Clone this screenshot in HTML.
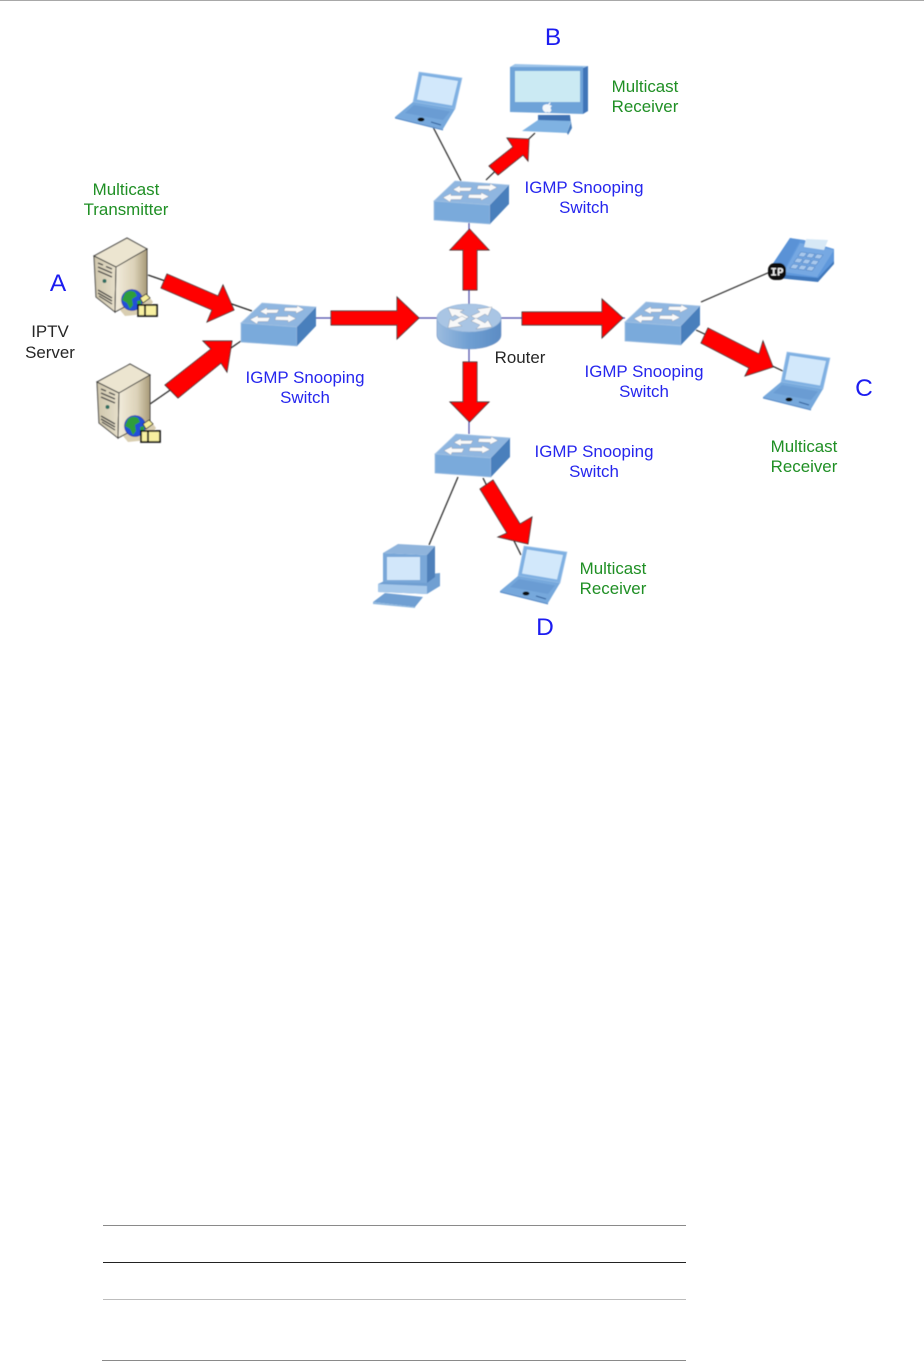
<!DOCTYPE html>
<html lang="en">
<head>
<meta charset="utf-8">
<title>IGMP Snooping diagram</title>
<style>
html,body{margin:0;padding:0;background:#fff;width:924px;height:1361px;overflow:hidden}
svg{display:block;position:absolute;left:0;top:0}
text{font-family:"Liberation Sans",sans-serif;font-size:16.9px;text-anchor:middle}
.b{fill:#2626ee}
.g{fill:#1f8f24}
.k{fill:#262626}
.L{font-size:24.5px;fill:#1c1cf0}
.ic{filter:url(#soft)}
.r{fill:#ff0000;stroke:#3a2a2a;stroke-width:.9;stroke-linejoin:miter}
.ip{font-family:"Liberation Mono",monospace;font-size:11px;font-weight:bold;fill:#f4f4f4}
</style>
</head>
<body>
<svg width="924" height="1361" viewBox="0 0 924 1361" xmlns="http://www.w3.org/2000/svg">
<defs>
<filter id="soft" x="-5%" y="-5%" width="110%" height="110%"><feGaussianBlur stdDeviation="0.5"/></filter>
<linearGradient id="srvF" x1="0" y1="0" x2="1" y2="0"><stop offset="0" stop-color="#cfc6ac"/><stop offset="1" stop-color="#e6dfca"/></linearGradient>
<linearGradient id="srvS" x1="0" y1="0" x2="1" y2="0"><stop offset="0" stop-color="#f2ecdc"/><stop offset=".6" stop-color="#dcd2b8"/><stop offset="1" stop-color="#a89a78"/></linearGradient>
<linearGradient id="rt" x1="0" y1="0" x2="1" y2="0"><stop offset="0" stop-color="#9cbcdf"/><stop offset=".5" stop-color="#6f9fd2"/><stop offset="1" stop-color="#5c8cc4"/></linearGradient>

<g id="sw">
  <polygon points="21,0 75,4 56,24 0,20" fill="#8fb6e0" stroke="#a8c6e6" stroke-width=".7"/>
  <polygon points="0,20 56,24 56,43 0,39" fill="#7aaadb" stroke="#a0c0e2" stroke-width=".7"/>
  <polygon points="56,24 75,4 75,23 56,43" fill="#4a7fbc"/>
  <g fill="#fafafa" stroke="#8a97a8" stroke-width=".4">
    <polygon points="19,8.500 26,4.500 26,6.500 38,6.500 36,10 26,10 26,12"/>
    <polygon points="63,6.500 56,2.500 56,4.500 44,4.500 43,8 55,8.500 55,10.500"/>
    <polygon points="9,16.500 17,12.500 17,14.500 29,14.500 27,18.500 17,18.500 16,21"/>
    <polygon points="55,15.500 47,11.500 47,13.500 35,13.500 34,17 47,17.500 47,19.500"/>
  </g>
</g>

<g id="lap">
  <polygon points="23,0 66,6 59,37 17,30" fill="#7fb0e2" stroke="#a6c8ec" stroke-width=".7"/>
  <polygon points="26,3.500 62,9 56,33.500 21,27.500" fill="#d2e8fb"/>
  <polygon points="17,30 59,37 47,57 -1,45" fill="#76a8dc"/>
  <polygon points="-1,45 47,57 47,58.500 -1,46.500" fill="#5a8ecb"/>
  <polygon points="18,33 54,39.500 47,48 9,41" fill="#6a9cd3"/>
  <ellipse cx="25" cy="47.500" rx="3.500" ry="2" fill="#111"/>
  <path d="M35,50 L45,53" stroke="#2c5a96" stroke-width="1"/>
</g>

<g id="srv">
  <path d="M25,72 L52,56 L58,64 L50,76 L30,78Z" fill="#cfc29e" opacity=".8"/>
  <polygon points="-1,18 32,0 52,11 21,29" fill="#ece5d0" stroke="#3e3e3c" stroke-width="1"/>
  <polygon points="-1,18 21,29 20,74 1,59" fill="url(#srvF)" stroke="#3e3e3c" stroke-width="1"/>
  <polygon points="21,29 52,11 52,57 20,74" fill="url(#srvS)" stroke="#3e3e3c" stroke-width="1"/>
  <g stroke="#444" stroke-width="1.300" fill="none">
    <path d="M3,25 L8,27 M11,28.500 L17,31"/>
    <path d="M3,29 L17,35"/>
    <path d="M3,33 L17,39"/>
    <path d="M3,52 L17,60 M3,55 L17,63 M4,58 L17,66"/>
  </g>
  <circle cx="9.500" cy="43" r="2" fill="#2f6f62"/>
  <circle cx="37" cy="62" r="10.500" fill="#2450d8" stroke="#20308c" stroke-width=".6"/>
  <path d="M30,55 q5,-4 10,-1 l2,4 -5,3 1,6 -3,4 -3,-6 -5,-3z M42,63 l4,-1 0,4 -3,4z" fill="#2f9e3a"/>
  <polygon points="45,60 51,56 55,60 48,65" fill="#f6ee9a" stroke="#222" stroke-width=".8"/>
  <rect x="43" y="67" width="19" height="11" fill="#f8f0a0" stroke="#111" stroke-width="1.700"/>
  <path d="M50,67 V78" stroke="#111" stroke-width="1.800"/>
</g>
</defs>

<rect x="0" y="0" width="924" height="1" fill="#a8a8a8"/>

<g class="ic">
  <!-- connectors -->
  <g stroke="#222" stroke-width="1.200" fill="none">
    <path d="M148,275 L252,311"/>
    <path d="M150,404 L241,341"/>
    <path d="M433,127 L461,181"/>
    <path d="M486,180 L535,133"/>
    <path d="M701,302 L770,272"/>
    <path d="M696,330 L785,372"/>
    <path d="M458,477 L429,545"/>
    <path d="M483,478 L521,555"/>
  </g>
  <g stroke="#4a4aa8" stroke-width="1.200" fill="none">
    <path d="M316,318 H437"/>
    <path d="M469,304 V223"/>
    <path d="M501,318 H625"/>
    <path d="M469,349 V434"/>
  </g>

  <!-- servers -->
  <use href="#srv" transform="translate(95,238)"/>
  <use href="#srv" transform="translate(98,364)"/>

  <!-- switches -->
  <use href="#sw" transform="translate(241,303)"/>
  <use href="#sw" transform="translate(434,181)"/>
  <use href="#sw" transform="translate(625,302)"/>
  <use href="#sw" transform="translate(435,434)"/>

  <!-- router -->
  <path d="M437,318 V335 A32,14 0 0 0 501,335 V318Z" fill="url(#rt)" stroke="#6f8fc0" stroke-width=".6"/>
  <ellipse cx="469" cy="318" rx="32" ry="14" fill="#a9c5e4" stroke="#8fb0d6" stroke-width=".6"/>
  <g fill="#f8f8f8" stroke="#7f8c9c" stroke-width=".4">
    <polygon points="448,308 464,310 460,312 469,317 464,320 455,315 452,317"/>
    <polygon points="492,307 477,309 480,312 471,316 476,319 485,314 488,316"/>
    <polygon points="448,328 462,326 458,323 467,319 462,316 453,321 450,319"/>
    <polygon points="492,327 476,329 480,325 471,321 476,318 485,323 488,320"/>
  </g>

  <!-- laptops -->
  <use href="#lap" transform="translate(396,72)"/>
  <use href="#lap" transform="translate(764,352)"/>
  <use href="#lap" transform="translate(501,546)"/>

  <!-- monitor -->
  <polygon points="538,115 570,115 571,123 556,124 538,124" fill="#3f72b2"/>
  <polygon points="538,120 571,121 567,133 522,131" fill="#7fb2e2"/>
  <polygon points="567,133 571,122 572,128 568,135" fill="#4a7fbc"/>
  <polygon points="515,64 588,66 583,68 510,67" fill="#9cc4ea"/>
  <polygon points="510,67 583,67 583,114 510,112" fill="#6ea3d8"/>
  <polygon points="583,68 588,66 588,111 583,114" fill="#3f74b8"/>
  <rect x="515" y="71" width="65" height="31" fill="#cbeaf3"/>
  <path d="M544,105 q3,-1.500 4,-.5 q1,-2 2.500,-2.500 q0,2 -1.500,3 q2,0 3,1 q-2.500,1.500 -.5,4 q-1,2.500 -2.500,2.500 q-1.500,-1 -3,0 q-3,-1 -3.500,-4 q0,-3 1.500,-3.500z" fill="#f4f8fb"/>

  <!-- desktop -->
  <polygon points="378,584 391,578 440,573 440,586 427,594 378,592" fill="#6f9fd2"/>
  <polygon points="378,584 427,586 427,594 378,592" fill="#a6c8ea"/>
  <polygon points="383,553 398,544 435,546 427,555" fill="#8fb4dc"/>
  <polygon points="383,553 427,555 427,583 383,582" fill="#79a7d8"/>
  <polygon points="427,555 435,546 435,577 427,583" fill="#4f80ba"/>
  <rect x="387" y="557" width="33" height="23" fill="#d2e7fa"/>
  <polygon points="385,593 423,597 415,607 373,602" fill="#6f9fd2"/>
  <polygon points="373,602 415,607 415,608 373,604" fill="#8db6de"/>

  <!-- phone -->
  <polygon points="790,238 804,240 834,249 834,262 818,281 775,276 770,268" fill="#5f98dc"/>
  <polygon points="770,268 790,238 800,240 782,273" fill="#5a92d6"/>
  <polygon points="784,272 800,243 834,250 817,277" fill="#76a8e2"/>
  <polygon points="775,274 818,278 834,261 834,264 818,282 777,278" fill="#3f78bc"/>
  <polygon points="806,239 828,240 824,250 804,247" fill="#d6e8f6"/>
  <g fill="#a8c8ec" stroke="#4f84c4" stroke-width=".6">
    <polygon points="801,252 807,253 804,257 798,256"/><polygon points="809,253 815,254 812,258 806,257"/><polygon points="817,254 823,255 820,259 814,258"/>
    <polygon points="797,258 803,259 800,263 794,262"/><polygon points="805,259 811,260 808,264 802,263"/><polygon points="813,260 819,261 816,265 810,264"/>
    <polygon points="793,264 799,265 796,269 790,268"/><polygon points="801,265 807,266 804,270 798,269"/><polygon points="809,266 815,267 812,271 806,270"/>
  </g>
  <rect x="768" y="263" width="18" height="17" rx="7" fill="#0a0a0a"/>
  <text class="ip" x="777" y="275.500">IP</text>

  <!-- red arrows -->
  <polygon class="r" points="167,274 218,296 223,285 234,310 207,322 212,310 161,288"/>
  <polygon class="r" points="165,385 211,349 203,341 232,341 227,372 221,363 178,398"/>
  <polygon class="r" points="331,311 397,311 397,297 419,318 397,339 397,325 331,325"/>
  <polygon class="r" points="463,290 463,250 450,250 469.500,229 489,250 477,250 477,290"/>
  <polygon class="r" points="522,312 602,312 602,299 623,318 602,338 602,325 522,325"/>
  <polygon class="r" points="463,362 463,402 450,402 469.500,422 489,402 477,402 477,362"/>
  <polygon class="r" points="708,328 759,354 763,341 773,367 745,376 749,368 701,343"/>
  <polygon class="r" points="489,166 513,147 507,138 529,139 528,161 523,155 498,175"/>
  <polygon class="r" points="480,489 493,480 520,524 532,517 528,544 498,537 507,533"/>
</g>

<!-- labels -->
<text class="g" x="126" y="195">Multicast</text>
<text class="g" x="126" y="215">Transmitter</text>
<text class="L" x="58" y="291">A</text>
<text class="k" x="50" y="337">IPTV</text>
<text class="k" x="50" y="358">Server</text>
<text class="L" x="553" y="45">B</text>
<text class="g" x="645" y="92">Multicast</text>
<text class="g" x="645" y="112">Receiver</text>
<text class="b" x="584" y="193">IGMP Snooping</text>
<text class="b" x="584" y="213">Switch</text>
<text class="k" x="520" y="363">Router</text>
<text class="b" x="305" y="383">IGMP Snooping</text>
<text class="b" x="305" y="403">Switch</text>
<text class="b" x="644" y="377">IGMP Snooping</text>
<text class="b" x="644" y="397">Switch</text>
<text class="L" x="864" y="396">C</text>
<text class="g" x="804" y="452">Multicast</text>
<text class="g" x="804" y="472">Receiver</text>
<text class="b" x="594" y="457">IGMP Snooping</text>
<text class="b" x="594" y="477">Switch</text>
<text class="g" x="613" y="574">Multicast</text>
<text class="g" x="613" y="594">Receiver</text>
<text class="L" x="545" y="635">D</text>

<!-- rules -->
<rect x="103" y="1225" width="583" height="1" fill="#8a8a8a"/>
<rect x="103" y="1262" width="583" height="1" fill="#222"/>
<rect x="103" y="1299" width="583" height="1" fill="#bdbdbd"/>
<rect x="102" y="1360" width="584" height="1" fill="#8a8a8a"/>
</svg>
</body>
</html>
